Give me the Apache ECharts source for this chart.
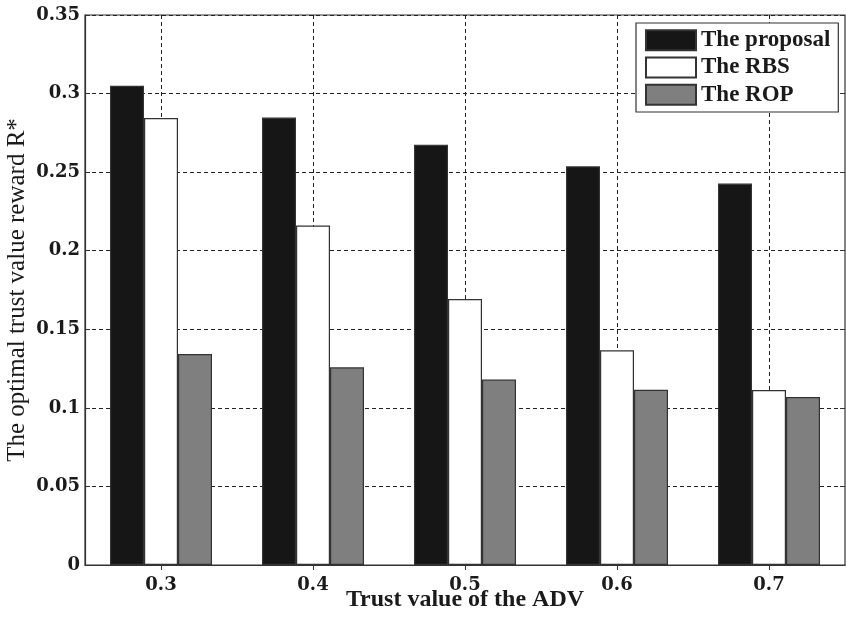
<!DOCTYPE html>
<html>
<head>
<meta charset="utf-8">
<script src="https://cdn.jsdelivr.net/npm/echarts@6/dist/echarts.min.js"></script>
<style>
html,body{margin:0;padding:0;background:#fff;}
#chart{width:846px;height:617px;}
</style>
</head>
<body>
<div id="chart"></div>
<script>
const categories = ['0.3', '0.4', '0.5', '0.6', '0.7'];
const proposal = [0.305, 0.2847, 0.2675, 0.2537, 0.2427];
const rbs = [0.2845, 0.216, 0.1693, 0.1366, 0.1113];
const rop = [0.1343, 0.1258, 0.118, 0.1115, 0.1069];
const seriesNames = ['The proposal', 'The RBS', 'The ROP'];
const yTicks = { min: 0, max: 0.35, interval: 0.05 };

const chart = echarts.init(document.getElementById('chart'), null, { renderer: 'canvas' });
const tickFont = { fontFamily: 'DejaVu Serif', fontWeight: 'bold', fontSize: 18, color: '#1a1a1a' };
const dash = { color: '#222', width: 1, type: [4, 3] };
const barBorder = { borderColor: '#333', borderWidth: 1.2 };

chart.setOption({
  animation: false,
  backgroundColor: '#fff',
  grid: { left: 85, right: 1, top: 15, bottom: 52, containLabel: false, outerBoundsMode: 'none',
          show: true, borderColor: '#333', borderWidth: 1.2, backgroundColor: '#fff' },
  legend: {
    left: 636, top: 23, orient: 'vertical',
    itemWidth: 50, itemHeight: 20, itemGap: 4.3,
    padding: [5.7, 8, 5.7, 9],
    backgroundColor: '#fff', borderColor: '#333', borderWidth: 1.2,
    textStyle: { fontFamily: 'Liberation Serif', fontWeight: 'bold', fontSize: 23, color: '#1a1a1a' },
    data: seriesNames,
    icon: 'rect'
  },
  xAxis: [{
    type: 'category', data: categories, position: 'bottom',
    axisLine: { show: true, lineStyle: { color: '#333', width: 1.2 } },
    axisTick: { show: true, inside: true, alignWithLabel: true, length: 5, lineStyle: { color: '#333' } },
    axisLabel: Object.assign({ margin: 11 }, tickFont),
    splitLine: { show: false },
    name: 'Trust value of the ADV', nameLocation: 'middle', nameGap: 23, nameMoveOverlap: false,
    nameTextStyle: { fontFamily: 'Liberation Serif', fontWeight: 'bold', fontSize: 24, color: '#1a1a1a' }
  }, {
    type: 'category', data: categories, position: 'top',
    axisLine: { show: false },
    axisTick: { show: true, inside: true, alignWithLabel: true, length: 5, lineStyle: { color: '#333' } },
    axisLabel: { show: false }, splitLine: { show: false }
  }],
  yAxis: [{
    type: 'value', min: yTicks.min, max: yTicks.max, interval: yTicks.interval,
    axisLine: { show: true, lineStyle: { color: '#333', width: 1.2 } },
    axisTick: { show: true, inside: true, length: 5, lineStyle: { color: '#333' } },
    axisLabel: Object.assign({ margin: 5 }, tickFont),
    splitLine: { show: true, lineStyle: dash },
    name: 'The optimal trust value reward R*', nameLocation: 'middle', nameGap: 55, nameMoveOverlap: false,
    nameTextStyle: { fontFamily: 'Liberation Serif', fontSize: 25, color: '#1a1a1a' }
  }, {
    type: 'value', position: 'right', min: yTicks.min, max: yTicks.max, interval: yTicks.interval,
    axisLine: { show: false },
    axisTick: { show: true, inside: true, length: 5, lineStyle: { color: '#333' } },
    axisLabel: { show: false }, splitLine: { show: false }
  }],
  series: [{
    name: seriesNames[0], type: 'bar', data: proposal, barWidth: 34, barGap: '0%',
    itemStyle: Object.assign({ color: '#161616' }, barBorder)
  }, {
    name: seriesNames[1], type: 'bar', data: rbs, barWidth: 34, barGap: '0%',
    itemStyle: Object.assign({ color: '#ffffff' }, barBorder),
    markLine: {
      silent: true, symbol: 'none', z: 1,
      label: { show: false },
      lineStyle: dash,
      data: categories.map(c => ({ xAxis: c }))
    }
  }, {
    name: seriesNames[2], type: 'bar', data: rop, barWidth: 34, barGap: '0%',
    itemStyle: Object.assign({ color: '#7f7f7f' }, barBorder)
  }]
});
</script>
</body>
</html>
